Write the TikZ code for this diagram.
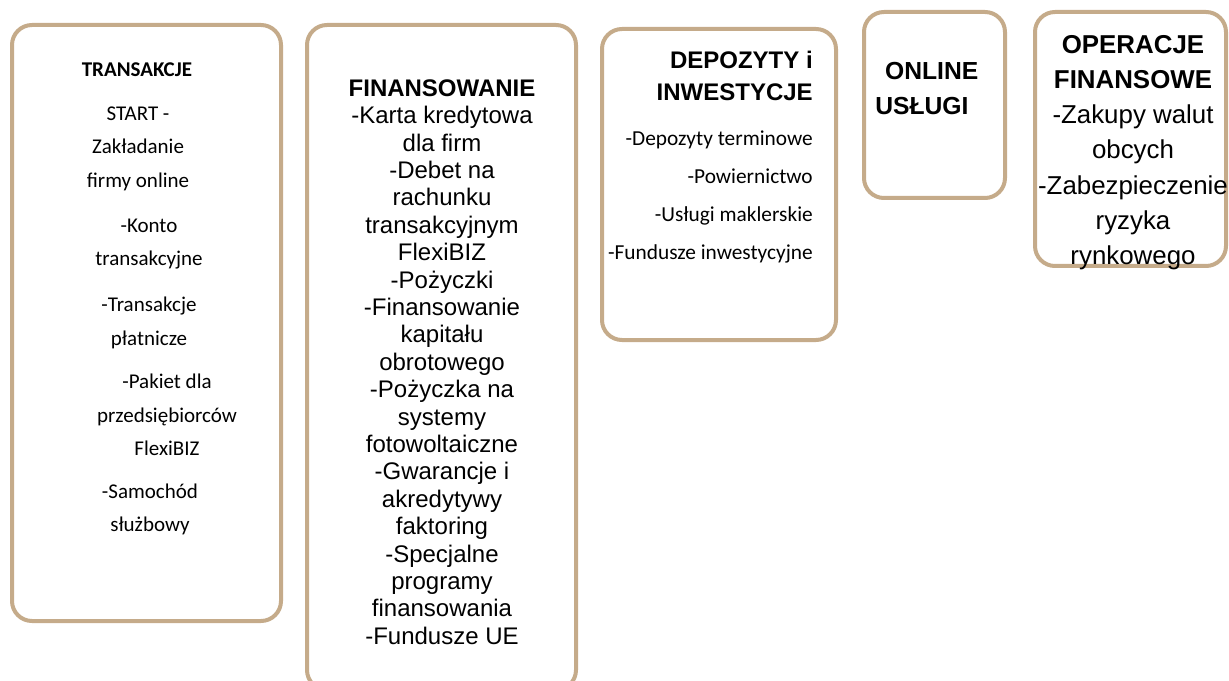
\documentclass[tikz,border=0pt]{standalone}
\usepackage{fontspec}
\setmainfont{Liberation Sans}
\newfontfamily\calibri{Carlito}
\usetikzlibrary{positioning}
\definecolor{panelTan}{RGB}{197,171,138}
\tikzset{
    panel/.style={draw=panelTan, line width=3pt, rounded corners=15pt},
    txtA/.style={font=\calibri\fontsize{15.75}{25.1}\selectfont, align=center, inner sep=0pt},
    txtB/.style={font=\fontsize{18}{20.55}\selectfont, align=center, inner sep=0pt},
    txtC/.style={font=\calibri\fontsize{16}{28.7}\selectfont, align=right, inner sep=0pt, anchor=east},
    headC/.style={font=\bfseries\fontsize{18}{24}\selectfont, align=right, inner sep=0pt, anchor=east},
    txtD/.style={font=\bfseries\fontsize{18.5}{26}\selectfont, align=left, inner sep=0pt, anchor=west},
    txtE/.style={font=\fontsize{19.4}{26.4}\selectfont, align=center, inner sep=0pt}
}
\begin{document}
\begin{tikzpicture}[x=0.75pt, y=-0.75pt]
    \useasboundingbox (0,0) rectangle (1229,681);
    % panels
    \draw[panel] (12,25) rectangle (281,621);
    \draw[panel] (307,25) rectangle (576,690);
    \draw[panel] (602,29) rectangle (836,340);
    \draw[panel] (864,12) rectangle (1005,198);
    \draw[panel] (1035,12) rectangle (1226,266);
    % transakcje
    \node[txtA, font=\calibri\bfseries\fontsize{15.75}{25.1}\selectfont] (trTitle) at (137,70) {TRANSAKCJE};
    \node[txtA] (trStart) at (138,148.5) {START -\\Zakładanie\\firmy online};
    \node[txtA] (trKonto) at (149,244) {-Konto\\transakcyjne};
    \node[txtA] (trPlat) at (149,323) {-Transakcje\\płatnicze};
    \node[txtA] (trPakiet) at (167,415) {-Pakiet dla\\przedsiębiorców\\FlexiBIZ};
    \node[txtA] (trAuto) at (150,509.5) {-Samochód\\służbowy};
    % finansowanie
    \node[txtB] (fin) at (442,362) {\textbf{FINANSOWANIE}\\-Karta kredytowa\\dla firm\\-Debet na\\rachunku\\transakcyjnym\\FlexiBIZ\\-Pożyczki\\-Finansowanie\\kapitału\\obrotowego\\-Pożyczka na\\systemy\\fotowoltaiczne\\-Gwarancje i\\akredytywy\\faktoring\\-Specjalne\\programy\\finansowania\\-Fundusze UE};
    % depozyty
    \node[headC] (depTitle) at (813,76) {DEPOZYTY i\\INWESTYCJE};
    \node[txtC] (depList) at (813,197) {-Depozyty terminowe\\-Powiernictwo\\-Usługi maklerskie\\-Fundusze inwestycyjne};
    % online
    \node[txtD] (online) at (875,88.5) {\hspace*{0.4em}ONLINE\\USŁUGI};
    % operacje
    \node[txtE] (oper) at (1133,152.5) {\textbf{OPERACJE}\\\textbf{FINANSOWE}\\-Zakupy walut\\obcych\\-Zabezpieczenie\\ryzyka\\rynkowego};
\end{tikzpicture}
\end{document}
